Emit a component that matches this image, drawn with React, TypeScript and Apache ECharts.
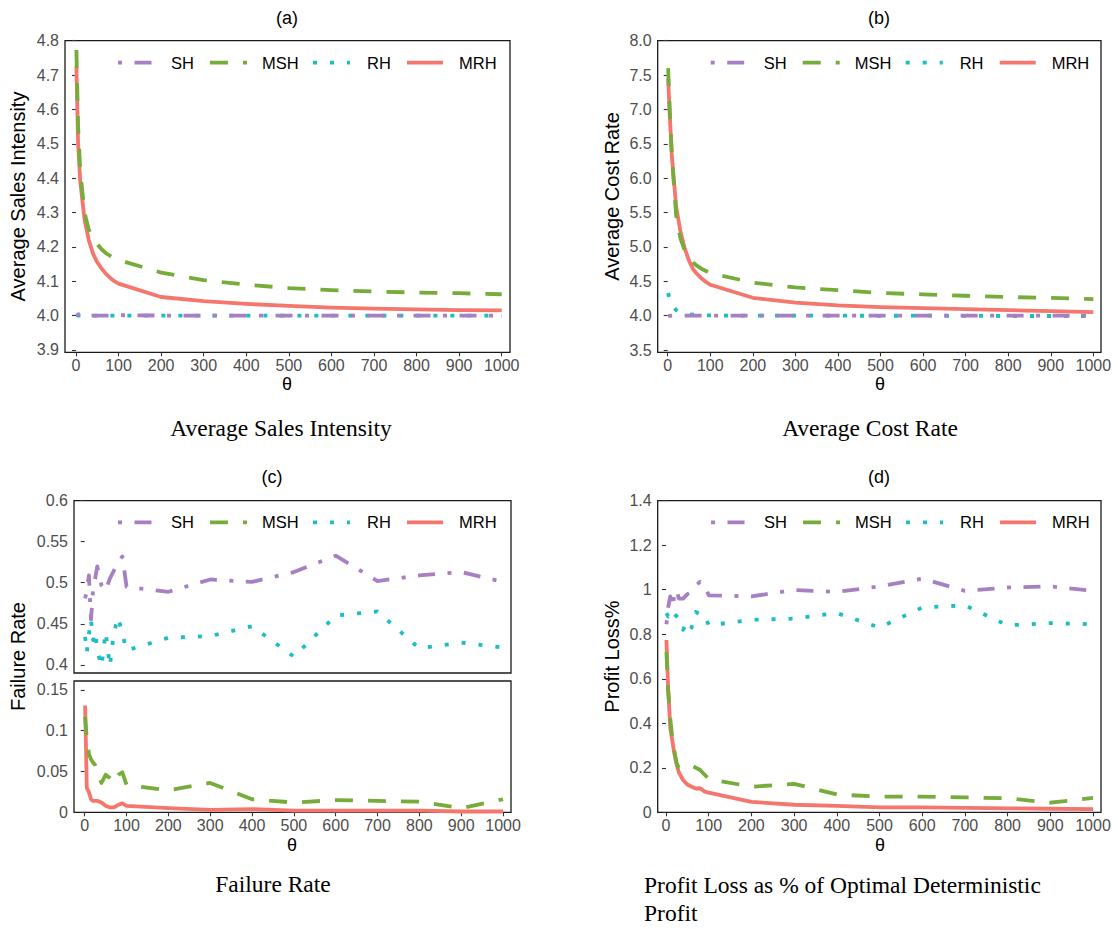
import React, { useEffect, useRef } from "react";
import * as echarts from "echarts";

// ---------- data ----------
const THETA_AB = [1, 5, 10, 20, 30, 40, 50, 60, 70, 80, 90, 100, 200, 300, 400, 500, 600, 700, 800, 900, 1000];
const THETA_CD = [1, 5, 10, 15, 20, 25, 30, 40, 50, 60, 70, 80, 90, 100, 200, 300, 400, 500, 600, 700, 800, 900, 1000];

// (a) Average Sales Intensity
const SH_A = [4.0, 4.003, 4.006, 3.998, 3.999, 4.0, 4.0, 4.0, 4.0, 4.0, 4.0, 4.001, 4.0, 4.0, 4.0, 4.0, 4.0, 4.0, 4.0, 4.0, 4.0];
const MSH_A = [4.773, 4.55, 4.42, 4.3, 4.25, 4.228, 4.208, 4.193, 4.182, 4.174, 4.167, 4.162, 4.125, 4.103, 4.09, 4.08, 4.074, 4.07, 4.067, 4.065, 4.062];
const RH_A = [4.001, 4.0, 4.0, 4.0, 4.0, 4.0, 4.0, 4.0, 4.0, 4.0, 4.0, 4.0, 4.0, 4.0, 4.0, 4.0, 4.0, 4.0, 4.0, 4.0, 4.0];
const MRH_A = [4.725, 4.5, 4.39, 4.28, 4.22, 4.18, 4.155, 4.137, 4.122, 4.11, 4.1, 4.093, 4.054, 4.042, 4.034, 4.028, 4.023, 4.02, 4.018, 4.016, 4.015];

// (b) Average Cost Rate
const SH_B = [4.0, 3.998, 4.0, 4.0, 4.0, 4.0, 4.0, 4.0, 4.0, 4.0, 4.0, 4.0, 4.0, 4.0, 4.0, 4.0, 4.0, 4.0, 4.0, 4.0, 4.0];
const MSH_B = [7.6, 6.95, 6.3, 5.45, 5.12, 4.95, 4.85, 4.77, 4.72, 4.68, 4.65, 4.62, 4.48, 4.41, 4.37, 4.33, 4.31, 4.29, 4.27, 4.26, 4.24];
const RH_B = [4.33, 4.22, 4.15, 4.08, 4.05, 4.03, 4.02, 4.015, 4.01, 4.008, 4.005, 4.003, 4.0, 4.0, 4.0, 3.998, 4.0, 3.997, 3.995, 3.995, 3.995];
const MRH_B = [7.45, 6.9, 6.3, 5.58, 5.22, 4.98, 4.8, 4.67, 4.6, 4.54, 4.49, 4.45, 4.26, 4.19, 4.15, 4.125, 4.11, 4.095, 4.08, 4.065, 4.05];

// (c) Failure Rate
const SH_C = [0.481, 0.49, 0.509, 0.455, 0.491, 0.505, 0.52, 0.497, 0.49, 0.505, 0.515, 0.526, 0.532, 0.495, 0.489, 0.504, 0.501, 0.513, 0.533, 0.502, 0.509, 0.513, 0.501];
const RH_C = [0.434, 0.415, 0.437, 0.455, 0.43, 0.44, 0.418, 0.398, 0.44, 0.398, 0.44, 0.458, 0.438, 0.4175, 0.433, 0.435, 0.447, 0.41, 0.46, 0.465, 0.42, 0.427, 0.421];
const MSH_C = [0.117, 0.09, 0.072, 0.065, 0.061, 0.058, 0.05, 0.036, 0.046, 0.042, 0.036, 0.046, 0.049, 0.0335, 0.027, 0.036, 0.016, 0.012, 0.015, 0.014, 0.013, 0.005, 0.016];
const MRH_C = [0.131, 0.03, 0.025, 0.016, 0.014, 0.014, 0.014, 0.012, 0.008, 0.006, 0.006, 0.009, 0.011, 0.008, 0.005, 0.003, 0.004, 0.002, 0.002, 0.002, 0.002, 0.001, 0.001];

// (d) Profit Loss %
const SH_D = [0.845, 0.92, 0.97, 0.92, 0.98, 1.0, 0.96, 0.96, 0.98, 0.99, 1.02, 1.036, 1.02, 0.975, 0.97, 0.999, 0.99, 1.015, 1.05, 0.995, 1.01, 1.015, 0.995];
const RH_D = [0.895, 0.88, 0.89, 0.87, 0.89, 0.88, 0.87, 0.82, 0.86, 0.83, 0.9, 0.89, 0.89, 0.84, 0.865, 0.87, 0.895, 0.83, 0.92, 0.93, 0.84, 0.85, 0.845];
const MSH_D = [0.72, 0.55, 0.42, 0.33, 0.27, 0.22, 0.2, 0.205, 0.21, 0.21, 0.2, 0.19, 0.17, 0.15, 0.115, 0.128, 0.08, 0.07, 0.07, 0.067, 0.063, 0.043, 0.065];
const MRH_D = [0.774, 0.56, 0.38, 0.32, 0.26, 0.215, 0.18, 0.145, 0.125, 0.115, 0.107, 0.108, 0.094, 0.088, 0.047, 0.034, 0.029, 0.022, 0.022, 0.02, 0.018, 0.016, 0.014];

// tick values
const X_TICKS = [0, 100, 200, 300, 400, 500, 600, 700, 800, 900, 1000];
const Y_TICKS_A = [3.9, 4.0, 4.1, 4.2, 4.3, 4.4, 4.5, 4.6, 4.7, 4.8];
const Y_TICKS_B = [3.5, 4.0, 4.5, 5.0, 5.5, 6.0, 6.5, 7.0, 7.5, 8.0];
const Y_TICKS_C_TOP = [0.4, 0.45, 0.5, 0.55, 0.6];
const Y_TICKS_C_BOTTOM = [0, 0.05, 0.1, 0.15];
const Y_TICKS_D = [0, 0.2, 0.4, 0.6, 0.8, 1, 1.2, 1.4];

// ---------- styles ----------
const SANS = "Liberation Sans, Arial, sans-serif";
const SERIF = "Liberation Serif, Times New Roman, serif";
const STYLE: Record<string, { color: string; dash: any }> = {
  SH: { color: "#A680C2", dash: [4, 12.5, 17, 12.5] },
  MSH: { color: "#76AC3A", dash: [18, 15] },
  RH: { color: "#1CBEC2", dash: [4, 13] },
  MRH: { color: "#F4766D", dash: "solid" },
};
const LW = 3.8;

const GRIDS = [
  { left: 65, top: 40.7, width: 445, height: 311.6, xmin: -25.8, xmax: 1019.5, ymin: 3.893, ymax: 4.8, ticks: Y_TICKS_A, fmt: (v: number) => v.toFixed(1), xLabels: true },
  { left: 657.7, top: 40.7, width: 443.3, height: 311.6, xmin: -23.5, xmax: 1018, ymin: 3.467, ymax: 8.0, ticks: Y_TICKS_B, fmt: (v: number) => v.toFixed(1), xLabels: true },
  { left: 74, top: 500.7, width: 437, height: 172.3, xmin: -25.6, xmax: 1019, ymin: 0.39, ymax: 0.6, ticks: Y_TICKS_C_TOP, fmt: (v: number) => String(v), xLabels: false },
  { left: 74, top: 681, width: 437, height: 131.3, xmin: -25.6, xmax: 1019, ymin: 0, ymax: 0.161, ticks: Y_TICKS_C_BOTTOM, fmt: (v: number) => String(v), xLabels: true },
  { left: 657.7, top: 500.7, width: 443.3, height: 311.6, xmin: -19.4, xmax: 1018.7, ymin: 0, ymax: 1.4, ticks: Y_TICKS_D, fmt: (v: number) => String(v), xLabels: true },
];

function mkSeries(name: string, xs: number[], ys: number[], gi: number) {
  const st = STYLE[name];
  return {
    type: "line",
    name,
    xAxisIndex: gi,
    yAxisIndex: gi,
    data: xs.map((x, i) => [x, ys[i]]),
    symbol: "none",
    showSymbol: false,
    silent: true,
    z: { MRH: 2, RH: 3, MSH: 4, SH: 5 }[name],
    lineStyle: { color: st.color, width: LW, type: st.dash, cap: "butt", join: "round" },
  };
}

function legend(ox: number, y: number) {
  const items = [
    { n: "SH", x1: 118, x2: 152, tx: 171 },
    { n: "MSH", x1: 210, x2: 247, tx: 262 },
    { n: "RH", x1: 313, x2: 350, tx: 367 },
    { n: "MRH", x1: 407, x2: 443, tx: 459 },
  ];
  const out: any[] = [];
  items.forEach((it) => {
    const st = STYLE[it.n];
    out.push({
      type: "line",
      shape: { x1: ox + it.x1, y1: y, x2: ox + it.x2, y2: y },
      style: { stroke: st.color, lineWidth: LW, lineDash: st.dash === "solid" ? null : st.dash, lineCap: "butt" },
      silent: true,
    });
    out.push({
      type: "text",
      x: ox + it.tx,
      y,
      style: { text: it.n, fontSize: 16.5, fontFamily: SANS, fill: "#000", align: "left", verticalAlign: "middle" },
      silent: true,
    });
  });
  return out;
}

function txt(text: string, x: number, y: number, size: number, family: string, opts: any = {}) {
  return {
    type: "text",
    x,
    y,
    rotation: opts.rotation || 0,
    silent: true,
    style: { text, fontSize: size, fontFamily: family, fill: "#000", align: opts.align || "center", verticalAlign: "middle" },
  };
}

export default function App() {
  const ref = useRef<HTMLDivElement>(null);
  useEffect(() => {
    if (!ref.current) return;
    const chart = echarts.init(ref.current, undefined, { renderer: "svg" });

    const grid = GRIDS.map((g) => ({
      left: g.left,
      top: g.top,
      width: g.width,
      height: g.height,
      show: true,
      borderColor: "#1a1a1a",
      borderWidth: 1.3,
      backgroundColor: "transparent",
    }));
    const xAxis = GRIDS.map((g, i) => ({
      type: "value",
      gridIndex: i,
      min: g.xmin,
      max: g.xmax,
      axisLine: { show: false },
      splitLine: { show: false },
      axisTick: { show: g.xLabels, customValues: X_TICKS, length: 4, lineStyle: { color: "#333", width: 1.1 } },
      axisLabel: {
        show: g.xLabels,
        customValues: X_TICKS,
        formatter: (v: number) => String(v),
        fontSize: 16,
        fontFamily: SANS,
        color: "#4D4D4D",
        margin: 5,
      },
    }));
    const yAxis = GRIDS.map((g, i) => ({
      type: "value",
      gridIndex: i,
      min: g.ymin,
      max: g.ymax,
      axisLine: { show: false },
      splitLine: { show: false },
      axisTick: { show: true, customValues: g.ticks, length: 4, lineStyle: { color: "#333", width: 1.1 } },
      axisLabel: { show: true, customValues: g.ticks, formatter: g.fmt, fontSize: 16, fontFamily: SANS, color: "#4D4D4D", margin: 6 },
    }));

    const series = [
      mkSeries("MRH", THETA_AB, MRH_A, 0),
      mkSeries("RH", THETA_AB, RH_A, 0),
      mkSeries("MSH", THETA_AB, MSH_A, 0),
      mkSeries("SH", THETA_AB, SH_A, 0),
      mkSeries("MRH", THETA_AB, MRH_B, 1),
      mkSeries("RH", THETA_AB, RH_B, 1),
      mkSeries("MSH", THETA_AB, MSH_B, 1),
      mkSeries("SH", THETA_AB, SH_B, 1),
      mkSeries("RH", THETA_CD, RH_C, 2),
      mkSeries("SH", THETA_CD, SH_C, 2),
      mkSeries("MRH", THETA_CD, MRH_C, 3),
      mkSeries("MSH", THETA_CD, MSH_C, 3),
      mkSeries("MRH", THETA_CD, MRH_D, 4),
      mkSeries("RH", THETA_CD, RH_D, 4),
      mkSeries("MSH", THETA_CD, MSH_D, 4),
      mkSeries("SH", THETA_CD, SH_D, 4),
    ];

    const graphic = [
      ...legend(0, 62.7),
      ...legend(592.7, 62.7),
      ...legend(0, 522.3),
      ...legend(593, 522.3),
      txt("(a)", 287, 18, 18, SANS),
      txt("(b)", 879, 18, 18, SANS),
      txt("(c)", 272, 477, 18, SANS),
      txt("(d)", 879, 477, 18, SANS),
      txt("θ", 287, 384, 18, SANS),
      txt("θ", 880, 384, 18, SANS),
      txt("θ", 292, 845, 18, SANS),
      txt("θ", 880, 845, 18, SANS),
      txt("Average Sales Intensity", 18, 196.5, 20, SANS, { rotation: Math.PI / 2 }),
      txt("Average Cost Rate", 612, 196.5, 20, SANS, { rotation: Math.PI / 2 }),
      txt("Failure Rate", 18, 656.5, 20, SANS, { rotation: Math.PI / 2 }),
      txt("Profit Loss%", 612, 656.5, 20, SANS, { rotation: Math.PI / 2 }),
      txt("Average Sales Intensity", 281, 428, 23.5, SERIF),
      txt("Average Cost Rate", 870, 428, 23.5, SERIF),
      txt("Failure Rate", 273, 884, 23.5, SERIF),
      txt("Profit Loss as % of Optimal Deterministic", 644, 885, 23.5, SERIF, { align: "left" }),
      txt("Profit", 644, 913, 23.5, SERIF, { align: "left" }),
    ];

    chart.setOption({
      animation: false,
      backgroundColor: "#fff",
      grid,
      xAxis,
      yAxis,
      series,
      graphic,
    } as any);

    return () => chart.dispose();
  }, []);

  return (
    <div
      ref={ref}
      style={{ position: "absolute", left: 0, top: 0, width: 1118, height: 929, background: "#fff" }}
    />
  );
}
